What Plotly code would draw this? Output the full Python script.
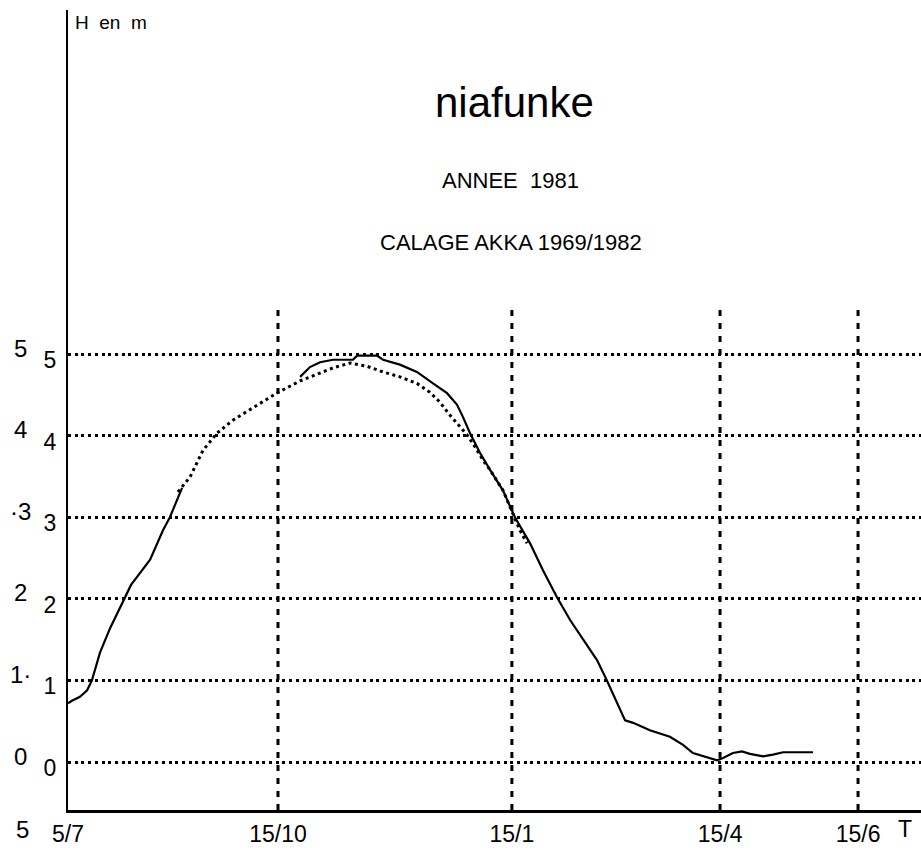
import plotly.graph_objects as go

# ---- data (x = days from 5/7 on the chart's time scale, y = H in m) ----
obs1_t = [0, 1.7, 5.2, 8.3, 10.4, 13.9, 18.3, 23.9, 27.4, 35.7, 41.3, 44.3, 49.6]
obs1_h = [0.72, 0.75, 0.80, 0.88, 1.00, 1.34, 1.64, 1.96, 2.17, 2.48, 2.84, 3.00, 3.36]

obs2_t = [100.9, 105.2, 109.6, 115.2, 123.9, 125.7, 134.3, 137.0, 144.3, 151.7, 158.7,
          164.8, 169.1, 171.7, 174.8, 179.1, 183.5, 189.1, 194.3, 200.9, 206.5, 212.6,
          218.3, 223.9, 230.0, 234.3, 238.7, 242.2, 245.7, 253.0, 261.7, 267.4, 271.7,
          277.8, 282.2, 284.8, 289.1, 293.0, 296.5, 302.2, 306.5, 310.9, 323.9]
obs2_h = [4.72, 4.84, 4.90, 4.93, 4.93, 4.98, 4.98, 4.93, 4.87, 4.78, 4.64,
          4.52, 4.38, 4.23, 4.03, 3.79, 3.58, 3.33, 3.00, 2.68, 2.35, 2.02,
          1.74, 1.50, 1.25, 1.00, 0.72, 0.51, 0.48, 0.39, 0.31, 0.21, 0.11,
          0.06, 0.02, 0.05, 0.11, 0.13, 0.10, 0.07, 0.09, 0.12, 0.12]

sim_t = [47.8, 53.0, 58.7, 64.8, 71.7, 80.4, 91.3, 100.9, 109.6, 115.2, 122.6, 130.0,
         137.0, 144.3, 151.7, 157.4, 161.7, 166.1, 170.4, 173.5, 177.0, 180.4, 183.5,
         189.1, 196.5, 199.6]
sim_h = [3.31, 3.49, 3.82, 4.03, 4.19, 4.34, 4.53, 4.67, 4.77, 4.83, 4.89, 4.85,
         4.78, 4.72, 4.64, 4.53, 4.41, 4.25, 4.11, 4.01, 3.86, 3.70, 3.58,
         3.33, 2.84, 2.68]

x_tickvals = [0, 91.3, 193.0, 283.5, 343.5]
x_ticktext = ["5/7", "15/10", "15/1", "15/4", "15/6"]
y_tickvals = [0, 1, 2, 3, 4, 5]
y_ticktext = ["0", "1", "2", "3", "4", "5"]
outer_labels = ["0", "1·", "2", "·3", "4", "5"]

FONT = "Liberation Sans, Arial, sans-serif"

X_RANGE = [0, 370.87]
Y_RANGE = [-0.588, 9.216]
VGRID_TOP = 5.6

fig = go.Figure()

fig.add_trace(go.Scatter(x=sim_t, y=sim_h, mode="lines",
                         line=dict(color="black", width=3, dash="3px,3.5px"),
                         hoverinfo="skip", showlegend=False))
fig.add_trace(go.Scatter(x=obs1_t, y=obs1_h, mode="lines",
                         line=dict(color="black", width=2.2),
                         hoverinfo="skip", showlegend=False))
fig.add_trace(go.Scatter(x=obs2_t, y=obs2_h, mode="lines",
                         line=dict(color="black", width=2.2),
                         hoverinfo="skip", showlegend=False))

# vertical dashed grid lines (stop short of the top)
for xv in x_tickvals[1:]:
    fig.add_shape(type="line", xref="x", yref="y", x0=xv, x1=xv,
                  y0=Y_RANGE[0], y1=VGRID_TOP,
                  line=dict(color="black", width=3, dash="6px,7px"), layer="below")

annotations = [
    dict(text="niafunke", x=0.523, y=0.884, font=dict(size=42)),
    dict(text="ANNEE  1981", x=0.519, y=0.7875, font=dict(size=22)),
    dict(text="CALAGE AKKA 1969/1982", x=0.519, y=0.709, font=dict(size=22)),
    dict(text="H  en  m", x=0.006, y=0.985, xanchor="left", font=dict(size=19)),
]
for a in annotations:
    a.update(xref="paper", yref="paper", showarrow=False, yanchor="middle")
    a.setdefault("xanchor", "center")
    a["font"].update(family=FONT, color="black")
    fig.add_annotation(**a)

# outer column of labels (left margin)
for yv, lab in zip(y_tickvals, outer_labels):
    fig.add_annotation(text=lab, xref="paper", yref="y", x=-0.056, y=yv, yshift=6,
                       showarrow=False, xanchor="center", yanchor="middle",
                       font=dict(family=FONT, size=24, color="black"))
fig.add_annotation(text="5", xref="paper", yref="paper", x=-0.053, y=-0.024,
                   showarrow=False, xanchor="center", yanchor="middle",
                   font=dict(family=FONT, size=24, color="black"))
fig.add_annotation(text="T", xref="paper", yref="paper", x=0.981, y=-0.024,
                   showarrow=False, xanchor="center", yanchor="middle",
                   font=dict(family=FONT, size=23, color="black"))

fig.update_xaxes(range=X_RANGE, tickvals=x_tickvals, ticktext=x_ticktext,
                 showgrid=False, zeroline=False, showline=True, linecolor="black",
                 linewidth=3, ticks="", ticklabelstandoff=1,
                 tickfont=dict(family=FONT, size=23, color="black"))
fig.update_yaxes(range=Y_RANGE, tickvals=y_tickvals, ticktext=y_ticktext,
                 showgrid=True, gridcolor="black", gridwidth=3, griddash="3px,3.7px",
                 zeroline=False, showline=True, linecolor="black", linewidth=2,
                 ticks="", ticklabelstandoff=5, ticklabelshift=6,
                 tickfont=dict(family=FONT, size=23, color="black"))

fig.update_layout(width=921, height=850, margin=dict(l=68, r=0, t=10, b=40),
                  paper_bgcolor="white", plot_bgcolor="white", showlegend=False)

fig.write_html("out.html")
